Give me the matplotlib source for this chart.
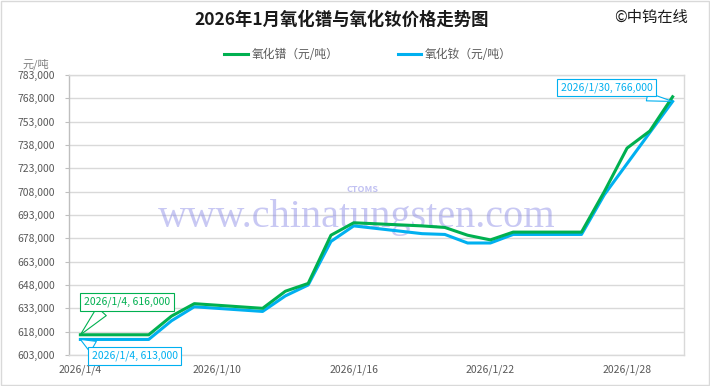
import numpy as np
import pandas as pd
import matplotlib
matplotlib.use("Agg")
import matplotlib.pyplot as plt
import matplotlib.dates as mdates
from matplotlib.ticker import FuncFormatter

plt.rcParams['font.family'] = ['Noto Sans CJK SC', 'DejaVu Sans']

dates = ["2026-01-04", "2026-01-05", "2026-01-06", "2026-01-07", "2026-01-08", "2026-01-09",
         "2026-01-12", "2026-01-13", "2026-01-14", "2026-01-15", "2026-01-16",
         "2026-01-19", "2026-01-20", "2026-01-21", "2026-01-22", "2026-01-23",
         "2026-01-26", "2026-01-27", "2026-01-28", "2026-01-29", "2026-01-30"]
pr_oxide = [616000, 616000, 616000, 616000, 628000, 636000,
            633000, 644000, 649000, 680000, 688000,
            686000, 685000, 680000, 677000, 682000,
            682000, 708000, 736000, 747000, 769000]
nd_oxide = [613000, 613000, 613000, 613000, 625000, 634000,
            631000, 641000, 648000, 676000, 686000,
            681000, 680500, 675000, 675000, 680500,
            680500, 706000, 726000, 746000, 766000]
series_names = ["氧化镨（元/吨）", "氧化钕（元/吨）"]
title = "2026年1月氧化镨与氧化钕价格走势图"
y_ticks = np.arange(603000, 783001, 15000)

green = "#00B050"
blue = "#00B0F0"
grey_txt = "#595959"
grid_c = "#D9D9D9"

x = pd.to_datetime(dates)
xn = mdates.date2num(x)

fig = plt.figure(figsize=(7.10, 3.86), dpi=100)
fig.patch.set_facecolor("white")
# outer chart frame
fig.add_artist(plt.Rectangle((0.002, 0.003), 0.996, 0.994, transform=fig.transFigure,
                             fill=False, ec="#D9D9D9", lw=1))

ax = fig.add_axes([69/710, 1-355/386, (684-69)/710, (355-75)/386])

ax.plot(xn, pr_oxide, color=green, lw=2.2, label=series_names[0], zorder=4)
ax.plot(xn, nd_oxide, color=blue, lw=2.2, label=series_names[1], zorder=3)

ax.set_ylim(603000, 783000)
ax.set_yticks(y_ticks)
ax.yaxis.set_major_formatter(FuncFormatter(lambda v, p: f"{int(round(v)):,}"))
ax.set_xlim(xn[0] - 0.5, xn[-1] + 0.5)
ax.set_xticks(xn[0] + np.arange(0, 25, 6))

def date_label(v, p):
    d = mdates.num2date(v)
    return f"{d.year}/{d.month}/{d.day}"

ax.xaxis.set_major_formatter(FuncFormatter(date_label))

ax.grid(axis="y", color=grid_c, lw=1)
ax.set_axisbelow(True)
for s in ax.spines.values():
    s.set_color(grid_c)
    s.set_linewidth(1)
ax.spines["left"].set_color("#BFBFBF")
ax.tick_params(axis="y", length=3, color="#BFBFBF", labelsize=7.5, labelcolor=grey_txt, pad=7)
ax.tick_params(axis="x", length=0, labelsize=7.5, labelcolor=grey_txt, pad=7)

# watermark
ax.text(0.468, 0.49, "www.chinatungsten.com", transform=ax.transAxes, ha="center", va="center",
        fontsize=29, family="Liberation Serif", color="#8585E6", alpha=0.45, zorder=2)
ax.text(0.478, 0.59, "CTOMS", transform=ax.transAxes, ha="center", va="center",
        fontsize=6.5, style="italic", weight="bold", color="#8585E6", alpha=0.5, zorder=2)

# callouts
ax.annotate("2026/1/4, 616,000", xy=(xn[0], pr_oxide[0]), xytext=(xn[0] + 0.15, 637000),
            fontsize=7.5, color=green, ha="left", va="center", zorder=6,
            bbox=dict(boxstyle="square,pad=0.35", fc="white", ec=green, lw=0.8),
            arrowprops=dict(arrowstyle="wedge,tail_width=1.2", fc="white", ec=green, lw=0.8,
                            shrinkA=0, shrinkB=0, relpos=(0.25, 0)))
ax.annotate("2026/1/4, 613,000", xy=(xn[0], nd_oxide[0]), xytext=(xn[0] + 0.5, 602300),
            fontsize=7.5, color=blue, ha="left", va="center", zorder=6, annotation_clip=False,
            bbox=dict(boxstyle="square,pad=0.35", fc="white", ec=blue, lw=0.8),
            arrowprops=dict(arrowstyle="wedge,tail_width=1.2", fc="white", ec=blue, lw=0.8,
                            shrinkA=0, shrinkB=0, relpos=(0.1, 1)))
ax.annotate("2026/1/30, 766,000", xy=(xn[-1], nd_oxide[-1]), xytext=(xn[-1] - 4.9, 775000),
            fontsize=7.5, color=blue, ha="left", va="center", zorder=6,
            bbox=dict(boxstyle="square,pad=0.35", fc="white", ec=blue, lw=0.8),
            arrowprops=dict(arrowstyle="wedge,tail_width=0.8", fc="white", ec=blue, lw=0.8,
                            shrinkA=0, shrinkB=0, relpos=(0.7, 0)))

# titles / labels
fig.text(342/710, 1-20/386, title, ha="center", va="center", fontsize=12.5, weight="bold", color="#1a1a1a")
fig.text(651/710, 1-17/386, "©中钨在线", ha="center", va="center", fontsize=11, color="#1a1a1a")
fig.text(36/710, 1-64/386, "元/吨", ha="center", va="center", fontsize=8, color="#808080")

leg = fig.legend(loc="center", bbox_to_anchor=(368/710, 1-55/386), ncol=2, frameon=False,
                 fontsize=8.5, handlelength=2.0, handletextpad=0.3, columnspacing=5.0)
for t in leg.get_texts():
    t.set_color(grey_txt)

fig.savefig("out.png", dpi=100, facecolor="white")
